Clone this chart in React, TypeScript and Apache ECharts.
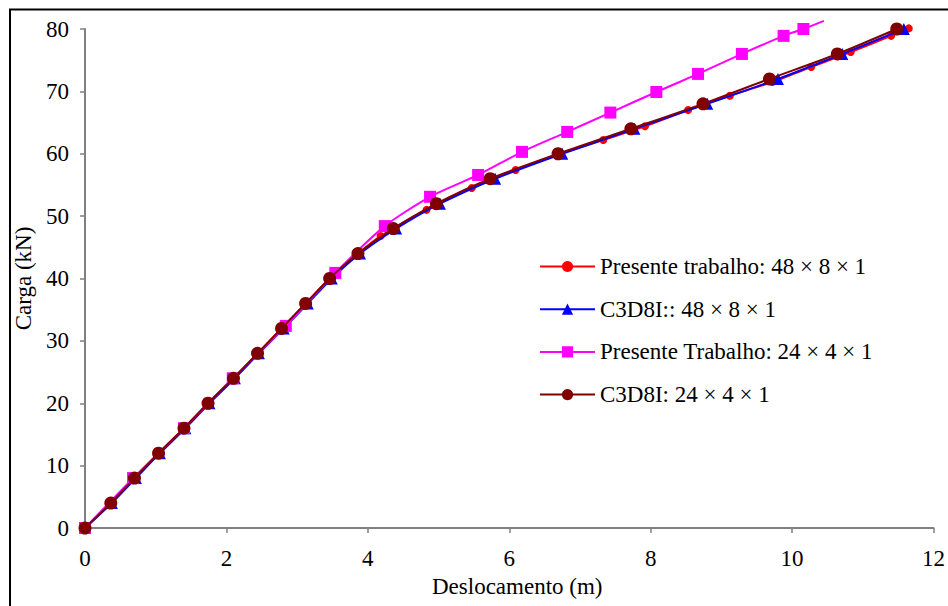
import React, { useEffect, useRef } from "react";
import * as echarts from "echarts";

// Presente trabalho: 48 × 8 × 1 (red, small circles)
const redLoad = [0, 4, 8, 12, 16, 20, 24, 28, 32, 36, 40, 44, 46.8, 51.0, 54.5, 57.4, 60.0, 62.2, 64.4, 67.0, 69.3, 71.5, 73.9, 76.3, 78.9, 80.1];
const redDisp = [0, 0.36, 0.7, 1.04, 1.4, 1.74, 2.1, 2.44, 2.78, 3.12, 3.46, 3.86, 4.18, 4.83, 5.47, 6.09, 6.71, 7.33, 7.92, 8.53, 9.12, 9.72, 10.27, 10.83, 11.4, 11.65];

// C3D8I:: 48 × 8 × 1 (blue, triangles)
const blueLoad = [0, 4, 8, 12, 16, 20, 24, 28, 32, 36, 40, 44, 48, 52, 56, 60, 64, 68, 72, 76, 80];
const blueDisp = [0, 0.38, 0.72, 1.06, 1.42, 1.76, 2.12, 2.46, 2.81, 3.15, 3.49, 3.89, 4.4, 5.02, 5.8, 6.75, 7.77, 8.8, 9.8, 10.71, 11.58];

// Presente Trabalho: 24 × 4 × 1 (magenta, squares)
const magLoad = [0, 8, 16, 24, 32.4, 40.9, 48.4, 53.1, 56.6, 60.3, 63.5, 66.6, 69.9, 72.8, 76.0, 78.9, 80.0, 81.3];
const magDisp = [0, 0.68, 1.4, 2.09, 2.84, 3.54, 4.24, 4.88, 5.56, 6.18, 6.82, 7.43, 8.08, 8.67, 9.29, 9.88, 10.16, 10.45];

// C3D8I: 24 × 4 × 1 (dark red, circles)
const darkLoad = [0, 4, 8, 12, 16, 20, 24, 28, 32, 36, 40, 44, 48, 52, 56, 60, 64, 68, 72, 76, 80];
const darkDisp = [0, 0.365, 0.7, 1.04, 1.4, 1.74, 2.1, 2.44, 2.78, 3.12, 3.46, 3.86, 4.36, 4.97, 5.73, 6.69, 7.72, 8.74, 9.68, 10.64, 11.48];

const seriesNames = [
  "Presente trabalho: 48 × 8 × 1",
  "C3D8I:: 48 × 8 × 1",
  "Presente Trabalho: 24 × 4 × 1",
  "C3D8I: 24 × 4 × 1",
];

const xTitle = "Deslocamento (m)";
const yTitle = "Carga (kN)";

const FONT = "'Liberation Serif', 'Times New Roman', serif";

function pairs(xs: number[], ys: number[]) {
  return xs.map((x, i) => [x, ys[i]]);
}

export default function App() {
  const ref = useRef<HTMLDivElement>(null);

  useEffect(() => {
    if (!ref.current) return;
    const chart = echarts.init(ref.current, null, { renderer: "svg" });

    const magData: any[] = pairs(magDisp, magLoad);
    // last point only continues the line beyond the frame
    const last = magData[magData.length - 1];
    magData[magData.length - 1] = { value: last, symbol: "none" };

    const axisCommon = {
      axisLine: { show: true, lineStyle: { color: "#808080", width: 2 } },
      axisTick: { show: true, inside: false, length: 5, lineStyle: { color: "#808080", width: 1.5 } },
      splitLine: { show: false },
      axisLabel: { color: "#000", fontFamily: FONT, fontSize: 23 },
      nameTextStyle: { color: "#000", fontFamily: FONT, fontSize: 23 },
    };

    chart.setOption({
      animation: false,
      backgroundColor: "#fff",
      grid: { left: 85, right: 8, top: 29, bottom: 78, containLabel: false },
      graphic: [
        {
          type: "rect",
          shape: { x: 10, y: 9.5, width: 1200, height: 1200 },
          style: { fill: "none", stroke: "#000", lineWidth: 2 },
          silent: true,
          z: -1,
        },
      ],
      legend: {
        orient: "vertical",
        left: 534,
        top: 250,
        itemWidth: 55,
        itemHeight: 14,
        itemGap: 19.7,
        textStyle: { color: "#000", fontFamily: FONT, fontSize: 23, lineHeight: 23 },
        data: seriesNames,
      },
      xAxis: {
        type: "value",
        min: 0,
        max: 12,
        interval: 2,
        name: xTitle,
        nameLocation: "middle",
        nameGap: 44,
        ...axisCommon,
        nameTextStyle: { ...axisCommon.nameTextStyle, padding: [0, 0, 0, 16] },
        axisLabel: { ...axisCommon.axisLabel, margin: 19 },
      },
      yAxis: {
        type: "value",
        min: 0,
        max: 80,
        interval: 10,
        name: yTitle,
        nameLocation: "middle",
        nameGap: 46,
        ...axisCommon,
        axisLabel: { ...axisCommon.axisLabel, margin: 16 },
      },
      series: [
        {
          name: seriesNames[0],
          type: "line",
          data: pairs(redDisp, redLoad),
          smooth: 0.25,
          symbol: "circle",
          symbolSize: 8,
          lineStyle: { color: "#FF0000", width: 2 },
          itemStyle: { color: "#FF0000" },
          clip: false,
          z: 2,
        },
        {
          name: seriesNames[1],
          type: "line",
          data: pairs(blueDisp, blueLoad),
          smooth: 0.25,
          symbol: "triangle",
          symbolSize: 12,
          lineStyle: { color: "#0000FF", width: 2 },
          itemStyle: { color: "#0000FF" },
          clip: false,
          z: 3,
        },
        {
          name: seriesNames[2],
          type: "line",
          data: magData,
          smooth: 0.25,
          symbol: "rect",
          symbolSize: 12,
          lineStyle: { color: "#FF00FF", width: 2 },
          itemStyle: { color: "#FF00FF" },
          clip: false,
          z: 4,
        },
        {
          name: seriesNames[3],
          type: "line",
          data: pairs(darkDisp, darkLoad),
          smooth: 0.25,
          symbol: "circle",
          symbolSize: 13,
          lineStyle: { color: "#800000", width: 2 },
          itemStyle: { color: "#800000" },
          clip: false,
          z: 5,
        },
      ],
    });

    return () => chart.dispose();
  }, []);

  return (
    <div
      ref={ref}
      style={{ position: "fixed", left: 0, top: 0, width: 948, height: 606, background: "#fff" }}
    />
  );
}
